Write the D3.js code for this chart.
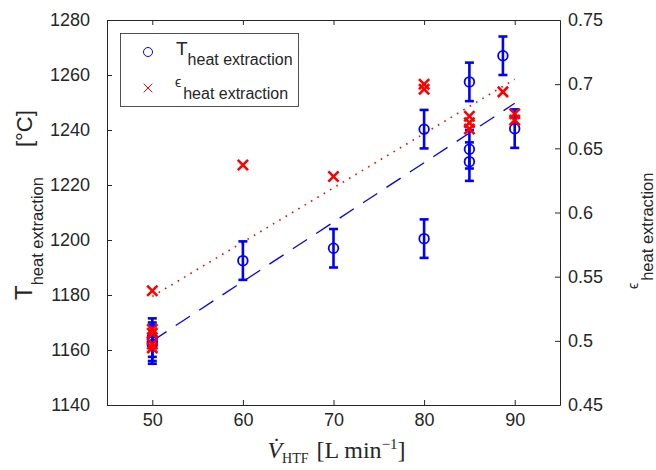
<!DOCTYPE html>
<html>
<head>
<meta charset="utf-8">
<script src="https://cdn.jsdelivr.net/npm/d3@7"></script>
<style>
  body { margin: 0; background: #fff; }
  svg { display: block; }
  text { font-family: "Liberation Sans", Arial, sans-serif; fill: #262626; }
</style>
</head>
<body>
<div id="chart"></div>
<script>
// T heat extraction (left axis) with error bars
var tFlow = [50, 50, 50, 60, 70, 80, 80, 85, 85, 85, 88.7, 90];
var tVal  = [1164.5, 1163, 1162, 1192.5, 1197, 1240.3, 1200.5, 1257.5, 1233, 1228.5, 1267, 1240.5];
var tErr  = [7, 7, 7, 7, 7, 7, 7, 7, 7, 7, 7, 7];
// epsilon heat extraction (right axis)
var eFlow = [50, 50, 50, 50, 50, 60, 70, 80, 80, 85, 85, 85, 88.7, 90, 90];
var eVal  = [0.539, 0.509, 0.506, 0.4975, 0.4945, 0.637, 0.628, 0.700, 0.696, 0.675, 0.670, 0.665, 0.694, 0.677, 0.672];
// linear fits
var fitFlow = [50, 90];
var tFit = [1163.3, 1249.7];
var eFit = [0.5346, 0.7038];
// ticks
var xTicks = [50, 60, 70, 80, 90];
var yLeftTicks = [1140, 1160, 1180, 1200, 1220, 1240, 1260, 1280];
var yRightTicks = [0.45, 0.5, 0.55, 0.6, 0.65, 0.7, 0.75];

var W = 656, H = 470;
var margin = {top: 20, right: 96, bottom: 65, left: 107};
var x0 = margin.left, x1 = W - margin.right,
    y0 = H - margin.bottom, y1 = margin.top;
var axisColor = '#262626';

var svg = d3.select('#chart').append('svg')
    .attr('width', W).attr('height', H);

var x = d3.scaleLinear().domain([45, 95]).range([x0, x1]);
var yL = d3.scaleLinear().domain([1140, 1280]).range([y0, y1]);
var yR = d3.scaleLinear().domain([0.45, 0.75]).range([y0, y1]);
var plain = function(d) { return String(d); };

function styleAxis(g) {
  g.select('.domain').attr('stroke', axisColor);
  g.selectAll('.tick line').attr('stroke', axisColor);
  g.selectAll('.tick text').style('font-size', '18px').attr('fill', axisColor);
}

// axes (ticks pointing inward)
svg.append('g')
    .attr('transform', 'translate(0,' + y0 + ')')
    .call(d3.axisBottom(x).tickValues(xTicks).tickSizeInner(-5).tickSizeOuter(0).tickPadding(8).tickFormat(plain))
    .call(styleAxis);
svg.append('g')
    .attr('transform', 'translate(0,' + y1 + ')')
    .call(d3.axisTop(x).tickValues(xTicks).tickSizeInner(-5).tickSizeOuter(0).tickFormat(''))
    .call(styleAxis);
svg.append('g')
    .attr('transform', 'translate(' + x0 + ',0)')
    .call(d3.axisLeft(yL).tickValues(yLeftTicks).tickSizeInner(-5).tickSizeOuter(0).tickPadding(17).tickFormat(plain))
    .call(styleAxis);
svg.append('g')
    .attr('transform', 'translate(' + x1 + ',0)')
    .call(d3.axisRight(yR).tickValues(yRightTicks).tickSizeInner(-5).tickSizeOuter(0).tickPadding(8).tickFormat(plain))
    .call(styleAxis);

// fit lines
var fitT = fitFlow.map(function(f, i) { return [f, tFit[i]]; });
var fitE = fitFlow.map(function(f, i) { return [f, eFit[i]]; });
svg.append('path')
    .datum(fitT)
    .attr('d', d3.line().x(function(d) { return x(d[0]); }).y(function(d) { return yL(d[1]); }))
    .attr('fill', 'none').attr('stroke', '#0000ff').attr('stroke-width', 1.3)
    .attr('stroke-dasharray', '17,11');
svg.append('path')
    .datum(fitE)
    .attr('d', d3.line().x(function(d) { return x(d[0]); }).y(function(d) { return yR(d[1]); }))
    .attr('fill', 'none').attr('stroke', '#ff0000').attr('stroke-width', 1.6)
    .attr('stroke-dasharray', '1.6,5.8');

// T points with error bars
var tData = tFlow.map(function(f, i) { return {f: f, v: tVal[i], e: tErr[i]}; });
var eb = svg.append('g').attr('stroke', '#0000ff').attr('fill', 'none');
var pts = eb.selectAll('g').data(tData).enter().append('g');
pts.append('line')
    .attr('x1', function(d) { return x(d.f); }).attr('x2', function(d) { return x(d.f); })
    .attr('y1', function(d) { return yL(d.v - d.e); }).attr('y2', function(d) { return yL(d.v + d.e); })
    .attr('stroke-width', 2.6);
[-1, 1].forEach(function(s) {
  pts.append('line')
      .attr('x1', function(d) { return x(d.f) - 4.5; }).attr('x2', function(d) { return x(d.f) + 4.5; })
      .attr('y1', function(d) { return yL(d.v + s * d.e); }).attr('y2', function(d) { return yL(d.v + s * d.e); })
      .attr('stroke-width', 2.6);
});
pts.append('circle')
    .attr('cx', function(d) { return x(d.f); })
    .attr('cy', function(d) { return yL(d.v); })
    .attr('r', 4.8).attr('stroke-width', 1.8);

// epsilon crosses
var cross = d3.symbol().type(d3.symbolX).size(70);
svg.append('g').selectAll('path').data(eFlow).enter().append('path')
    .attr('transform', function(d, i) { return 'translate(' + x(d) + ',' + yR(eVal[i]) + ')'; })
    .attr('d', cross)
    .attr('fill', 'none').attr('stroke', '#ff0000').attr('stroke-width', 2.6);

// legend
var lg = svg.append('g');
lg.append('rect').attr('x', 120.5).attr('y', 33.5).attr('width', 178).attr('height', 73)
    .attr('fill', '#fff').attr('stroke', axisColor).attr('stroke-width', 0.8);
lg.append('circle').attr('cx', 148).attr('cy', 52).attr('r', 4.5)
    .attr('fill', 'none').attr('stroke', '#0000ff').attr('stroke-width', 1);
lg.append('path').attr('transform', 'translate(148,88)').attr('d', d3.symbol().type(d3.symbolX).size(50))
    .attr('fill', 'none').attr('stroke', '#ff0000').attr('stroke-width', 1);
var lt1 = lg.append('text').attr('x', 176).attr('y', 54.5).style('font-size', '19px');
lt1.append('tspan').text('T');
lt1.append('tspan').attr('dy', 10.5).style('font-size', '16px').text('heat extraction');
var lt2 = lg.append('text').attr('x', 175).attr('y', 87).style('font-size', '14px');
lt2.append('tspan').text('\u03f5');
lt2.append('tspan').attr('dy', 12).attr('dx', 2).style('font-size', '16px').text('heat extraction');

// left y label
var ylab = svg.append('text')
    .attr('transform', 'translate(32,300) rotate(-90)')
    .style('font-size', '24px');
ylab.append('tspan').text('T');
ylab.append('tspan').attr('dy', 11).style('font-size', '16.5px').text('heat extraction');
ylab.append('tspan').attr('dy', -11).attr('dx', 30).style('font-size', '22px').text('[\u00b0C]');

// right y label
var yrlab = svg.append('text')
    .attr('transform', 'translate(638,289) rotate(-90)')
    .style('font-size', '14px');
yrlab.append('tspan').text('\u03f5');
yrlab.append('tspan').attr('dy', 15).attr('dx', 2).style('font-size', '16.5px').text('heat extraction');

// x label
var xlab = svg.append('text')
    .attr('x', (x0 + x1) / 2 + 3).attr('y', 458)
    .attr('text-anchor', 'middle')
    .style('font-family', '"Liberation Serif", "DejaVu Serif", serif')
    .style('font-size', '24px');
xlab.append('tspan').style('font-style', 'italic').text('V\u0307');
xlab.append('tspan').attr('dy', 5).style('font-size', '14px').text('HTF');
xlab.append('tspan').attr('dy', -5).attr('dx', 2).text(' [L min');
xlab.append('tspan').attr('dy', -9).style('font-size', '15px').text('\u22121');
xlab.append('tspan').attr('dy', 9).text(']');
</script>
</body>
</html>
